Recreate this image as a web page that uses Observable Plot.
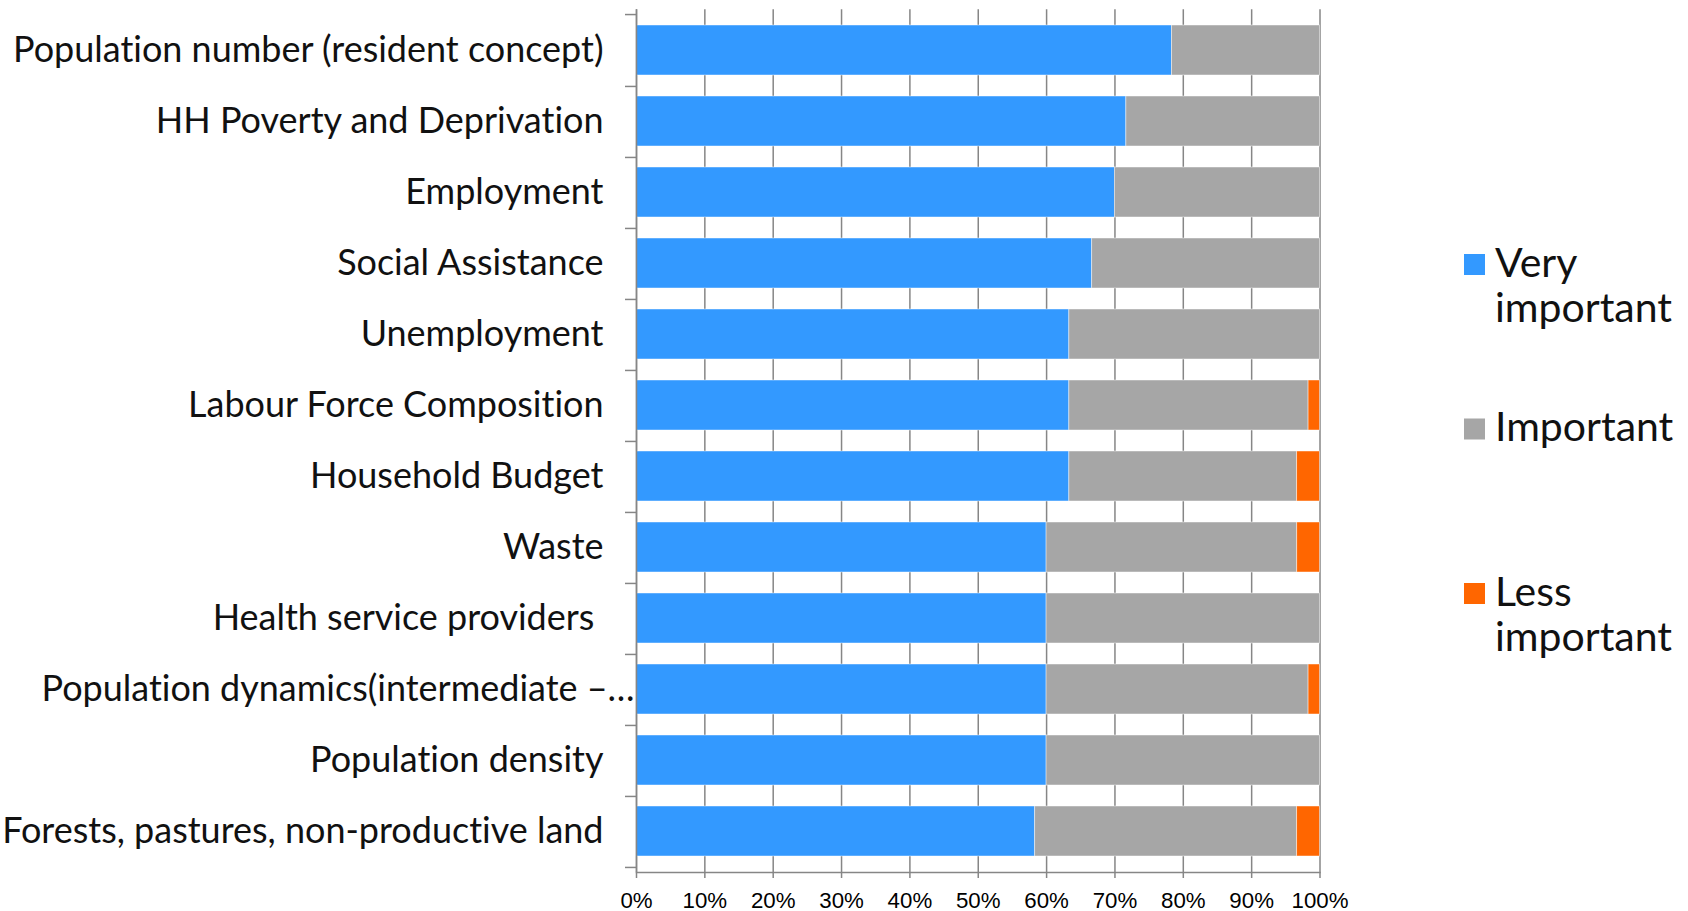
<!DOCTYPE html>
<html>
<head>
<meta charset="utf-8">
<script src="https://cdn.jsdelivr.net/npm/d3@7"></script>
<script src="https://cdn.jsdelivr.net/npm/@observablehq/plot@0.6"></script>
<style>
  body { margin: 0; background: #fff; }
  #chart { width: 1688px; height: 911px; }
  #chart svg text { white-space: pre; font-variant-ligatures: none; }
</style>
</head>
<body>
<div id="chart"></div>
<script>
// ---- data ----
const categories = [
  "Population number (resident concept)",
  "HH Poverty and Deprivation",
  "Employment",
  "Social Assistance",
  "Unemployment",
  "Labour Force Composition",
  "Household Budget",
  "Waste",
  "Health service providers ",
  "Population dynamics(intermediate –…",
  "Population density",
  "Forests, pastures, non-productive land"
];
const series = ["Very important", "Important", "Less important"];
const veryImportant = [78.33, 71.67, 70.00, 66.67, 63.33, 63.33, 63.33, 60.00, 60.00, 60.00, 60.00, 58.33];
const important     = [21.67, 28.33, 30.00, 33.33, 36.67, 35.00, 33.33, 36.67, 40.00, 38.33, 40.00, 38.33];
const lessImportant = [0, 0, 0, 0, 0, 1.67, 3.33, 3.33, 0, 1.67, 0, 3.33];
const xTicks = [0, 10, 20, 30, 40, 50, 60, 70, 80, 90, 100];
const legendLabels = [["Very", "important"], ["Important"], ["Less", "important"]];
const colors = ["#3399FF", "#A6A6A6", "#FF6600"];

// ---- table for the library ----
const seriesValues = [veryImportant, important, lessImportant];
const rows = categories.flatMap((c, i) =>
  series.map((s, j) => ({category: c, series: s, value: seriesValues[j][i]}))
);

// ---- font sizing ----
const ctx = document.createElement("canvas").getContext("2d");
function fitSize(text, family, target) {
  ctx.font = `100px ${family}`;
  return 100 * target / ctx.measureText(text).width;
}
const labelFamily = "Lato";
const labelSize = fitSize("Population number (resident concept)", labelFamily, 592);
const legendSize = fitSize("important", labelFamily, 177);
const tickFamily = "Liberation Sans";
const tickFontSize = fitSize("100%", tickFamily, 57);

const axisColor = "#868686";
const W = 1688, H = 911;
const mTop = 9.3, mBottom = 39, mLeft = 636, mRight = 368.5;
const step = (H - mTop - mBottom) / categories.length;

const isTrunc = d => d.endsWith("…");

const chart = Plot.plot({
  width: W,
  height: H,
  marginLeft: mLeft,
  marginRight: mRight,
  marginTop: mTop,
  marginBottom: mBottom,
  style: {fontFamily: labelFamily, background: "white", color: "black", overflow: "visible"},
  x: {domain: [0, 100], axis: null},
  y: {domain: categories, paddingInner: 0.29, paddingOuter: 0.145, axis: null},
  color: {domain: series, range: colors},
  marks: [
    Plot.gridX(xTicks, {stroke: axisColor, strokeOpacity: 1, strokeWidth: 1.5}),
    Plot.barX(rows, Plot.stackX({
      x: "value", y: "category", fill: "series",
      stroke: "white", strokeWidth: 0.75, strokeOpacity: 0.6
    })),
    Plot.ruleX([0], {stroke: axisColor, strokeWidth: 1.5}),
    Plot.frame({anchor: "bottom", stroke: axisColor, strokeWidth: 1.5}),
    Plot.axisX(xTicks, {
      tickFormat: d => d + "%", tickSize: 6, tickPadding: 14,
      stroke: axisColor, strokeWidth: 1.5, fill: "black",
      fontSize: tickFontSize, fontFamily: tickFamily, label: null
    }),
    Plot.axisY({tickSize: 11, dy: step / 2, stroke: axisColor, strokeWidth: 1.5, fill: "none", label: null}),
    Plot.axisY([categories[0]], {tickSize: 11, dy: -step / 2, stroke: axisColor, strokeWidth: 1.5, fill: "none", label: null}),
    Plot.text(categories.filter(d => !isTrunc(d)), {
      y: d => d, text: d => d, frameAnchor: "left", textAnchor: "end", dx: -33,
      fontSize: labelSize, fill: "#111"
    }),
    Plot.text(categories.filter(isTrunc), {
      y: d => d, text: d => d, frameAnchor: "left", textAnchor: "end", dx: -2,
      fontSize: labelSize, fill: "#111"
    })
  ]
});

// ---- legend (right side) ----
const svg = d3.select(chart);
const lg = svg.append("g")
  .attr("font-family", labelFamily)
  .attr("font-size", legendSize)
  .attr("text-anchor", "start");
legendLabels.forEach((lines, i) => {
  const cy = 264.5 + i * 164.5;
  lg.append("rect")
    .attr("x", 1464).attr("y", cy - 10.5)
    .attr("width", 21).attr("height", 21)
    .attr("fill", colors[i]);
  const t = lg.append("text")
    .attr("x", 1495).attr("y", cy + 12)
    .attr("text-anchor", "start")
    .attr("fill", "#111");
  lines.forEach((ln, k) => {
    t.append("tspan").attr("x", 1495).attr("dy", k === 0 ? 0 : 45).text(ln);
  });
});

document.getElementById("chart").appendChild(chart);
</script>
</body>
</html>
